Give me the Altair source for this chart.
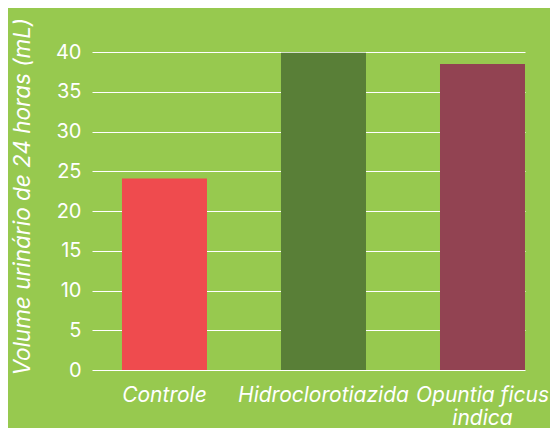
import altair as alt
import pandas as pd

categories = ["Controle", "Hidroclorotiazida", "Opuntia ficus indica"]
values = [24.1, 39.9, 38.5]
colors = ["#ef4b4e", "#597f37", "#924352"]

df = pd.DataFrame({"grupo": categories, "volume": values})

bg = "#97c94f"
font = "Inter"

chart = alt.Chart(df).mark_bar().encode(
    x=alt.X(
        "grupo:N",
        sort=categories,
        scale=alt.Scale(paddingInner=0.4654, paddingOuter=0.0943, align=1),
        axis=alt.Axis(
            title=None,
            labelAngle=0,
            labelFont=font,
            labelFontStyle="italic",
            labelFontSize=21,
            labelColor="white",
            labelPadding=14,
            labelLimit=300,
            labelOverlap=False,
            domain=False,
            ticks=False,
            labelExpr="datum.value == 'Opuntia ficus indica' ? ['Opuntia ficus', 'indica'] : datum.value",
            labelLineHeight=23,
        ),
    ),
    y=alt.Y(
        "volume:Q",
        scale=alt.Scale(domain=[0, 40]),
        axis=alt.Axis(
            title="Volume urinário de 24 horas (mL)",
            values=[0, 5, 10, 15, 20, 25, 30, 35, 40],
            titleFont=font,
            titleFontStyle="italic",
            titleFontWeight="normal",
            titleFontSize=22.5,
            titleColor="white",
            titleAnchor="start",
            titleY=323,
            titlePadding=21,
            titleLimit=600,
            labelFont=font,
            labelFontSize=20,
            labelColor="white",
            labelPadding=11,
            domain=False,
            ticks=False,
            grid=True,
            gridColor="white",
            gridWidth=1.2,
        ),
    ),
    color=alt.Color("grupo:N", scale=alt.Scale(domain=categories, range=colors), legend=None),
).properties(
    width=433,
    height=318,
    background=bg,
    padding={"left": 84, "top": 44, "right": 25, "bottom": 58},
    autosize=alt.AutoSizeParams(type="none"),
).configure_view(stroke=None)

chart.save("out.html", embed_options={"renderer": "svg", "actions": False})
